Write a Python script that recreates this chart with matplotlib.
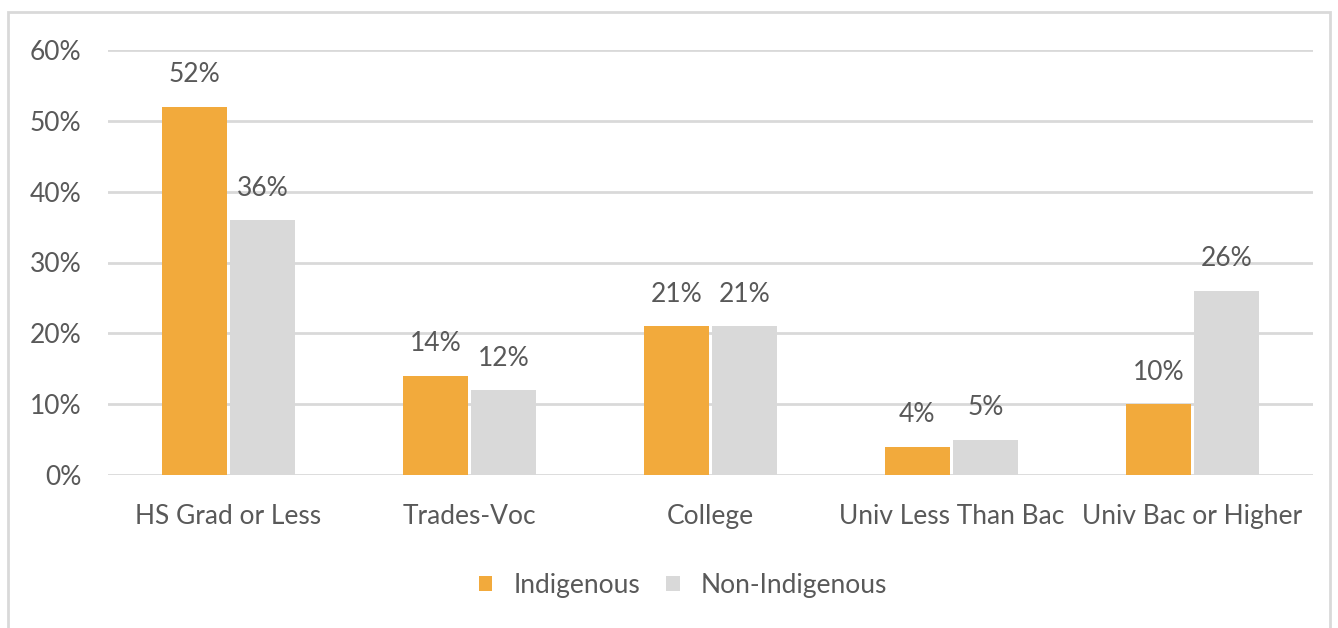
import numpy as np
import matplotlib.pyplot as plt
from matplotlib.patches import Rectangle
from matplotlib.ticker import PercentFormatter

categories = ["HS Grad or Less", "Trades-Voc", "College", "Univ Less Than Bac", "Univ Bac or Higher"]
indigenous = [52, 14, 21, 4, 10]
non_indigenous = [36, 12, 21, 5, 26]
series_names = ["Indigenous", "Non-Indigenous"]

ORANGE = "#F2AA3C"
GREY = "#D9D9D9"
TEXT = "#595959"
FS = 19

plt.rcParams['font.family'] = ['Lato', 'DejaVu Sans']

fig = plt.figure(figsize=(13.38, 6.28), dpi=100)
fig.patches.append(Rectangle((8 / 1338, -0.05), 1322 / 1338, 1.05 - 12 / 628,
                             transform=fig.transFigure, fill=False,
                             edgecolor=GREY, linewidth=2))

ax = fig.add_axes([108 / 1338, 1 - 475 / 628, 1205 / 1338, 425 / 628])

x = np.arange(len(categories))
w = 0.27
gap = 0.007
b1 = ax.bar(x - w / 2 - gap, indigenous, w, color=ORANGE, label=series_names[0], zorder=3)
b2 = ax.bar(x + w / 2 + gap, non_indigenous, w, color=GREY, label=series_names[1], zorder=3)

for bars in (b1, b2):
    for r in bars:
        ax.annotate(f"{r.get_height():.0f}%", (r.get_x() + r.get_width() / 2, r.get_height()),
                    xytext=(0, 14), textcoords="offset points", ha="center", va="bottom",
                    fontsize=FS, color=TEXT)

ax.set_xlim(-0.5, len(categories) - 0.5)
ax.set_ylim(0, 60)
ax.set_yticks(np.arange(0, 61, 10))
ax.yaxis.set_major_formatter(PercentFormatter(decimals=0))
ax.set_xticks(x)
ax.set_xticklabels(categories)
ax.grid(axis="y", color=GREY, linewidth=2, zorder=0)
for s in ax.spines.values():
    s.set_visible(False)
ax.tick_params(length=0, labelsize=FS, labelcolor=TEXT)
ax.tick_params(axis="y", pad=19)
ax.tick_params(axis="x", pad=21)

ax.legend(loc="center", bbox_to_anchor=(683 / 1338, 1 - 585 / 628), bbox_transform=fig.transFigure,
          ncol=2, frameon=False, fontsize=FS, labelcolor=TEXT, handlelength=0.5, handleheight=0.5,
          handletextpad=0.8, columnspacing=1.0)

fig.savefig("out.png", dpi=100)
